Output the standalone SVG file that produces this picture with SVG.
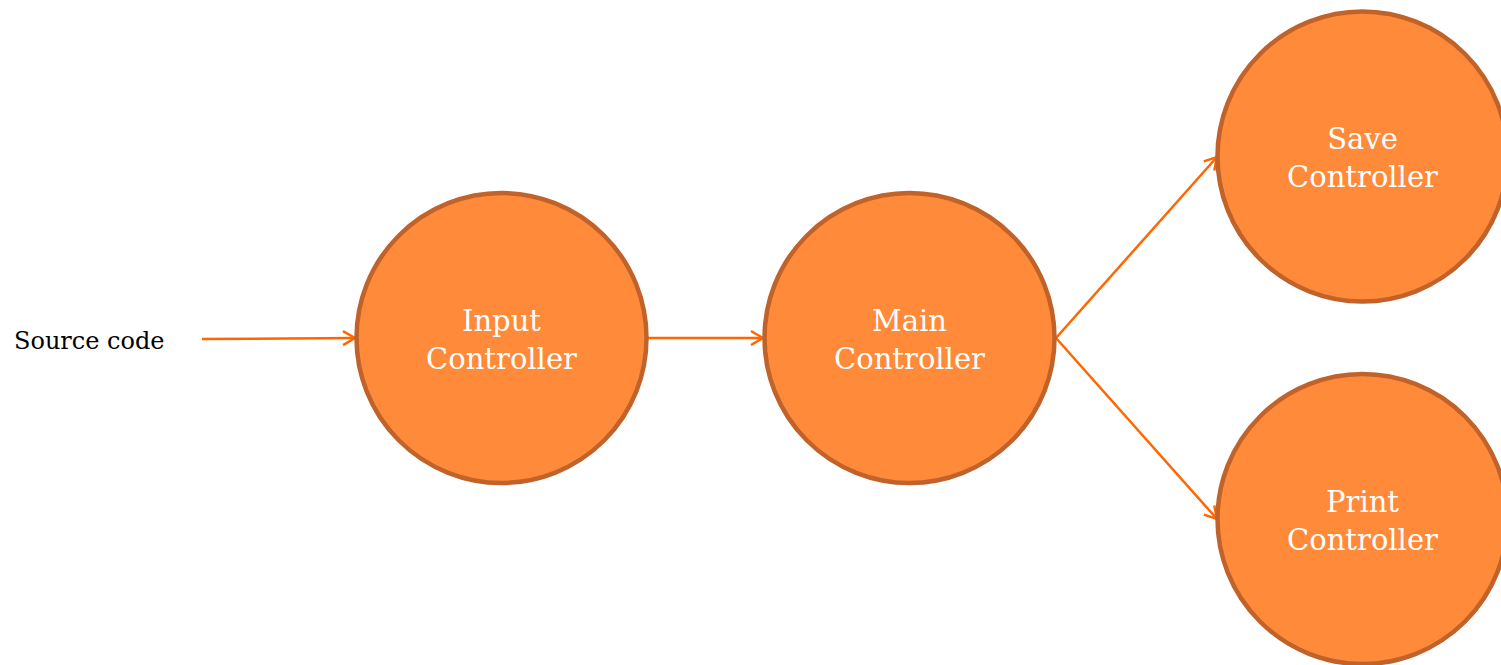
<svg xmlns="http://www.w3.org/2000/svg" width="1501" height="665" viewBox="0 0 1501 665">
<style>
.node circle{fill:#FF8A3A;stroke:#C0622A;stroke-width:4.5}
.node text{fill:#ffffff;font-family:"DejaVu Serif","Liberation Serif",serif;font-size:29px;text-anchor:middle}
.edge{stroke:#FF6600;stroke-width:2.5;fill:none;marker-end:url(#arr)}
.lbl{fill:#000;font-family:"DejaVu Serif","Liberation Serif",serif;font-size:24px}
</style>
<defs>
<marker id="arr" markerWidth="20" markerHeight="20" refX="18" refY="10" orient="auto" markerUnits="userSpaceOnUse">
<path d="M6,3 L18,10 L6,17" fill="none" stroke="#FF6600" stroke-width="2.5"/>
</marker>
</defs>
<g id="connectors">
<line class="edge" x1="202" y1="339" x2="355" y2="338"/>
<line class="edge" x1="648" y1="338" x2="763" y2="338"/>
<line class="edge" x1="1056" y1="338" x2="1217" y2="157"/>
<line class="edge" x1="1056" y1="338" x2="1217" y2="519"/>
</g>
<g id="source"><text class="lbl" x="14" y="349">Source code</text></g>
<g id="input" class="node"><circle cx="501.5" cy="338" r="145"/><text x="501.5" y="331">Input</text><text x="501.5" y="369">Controller</text></g>
<g id="main" class="node"><circle cx="909.5" cy="338" r="145"/><text x="909.5" y="331">Main</text><text x="909.5" y="369">Controller</text></g>
<g id="save" class="node"><circle cx="1362.5" cy="156.5" r="145"/><text x="1362.5" y="149">Save</text><text x="1362.5" y="187">Controller</text></g>
<g id="print" class="node"><circle cx="1362.5" cy="519" r="145"/><text x="1362.5" y="512">Print</text><text x="1362.5" y="550">Controller</text></g>
</svg>
